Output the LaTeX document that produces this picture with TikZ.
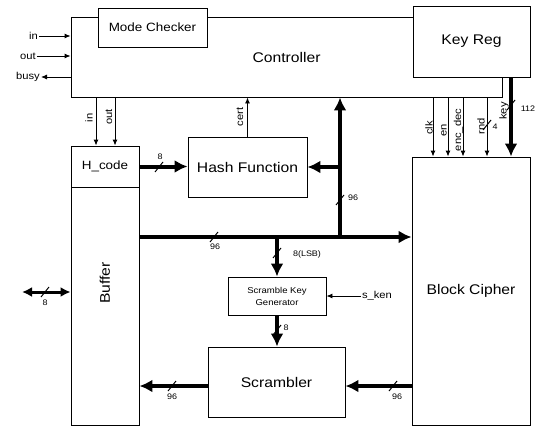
\documentclass[tikz,border=0pt]{standalone}
\usepackage{fontspec}
\setmainfont[FakeStretch=1.12]{Liberation Sans}
\usetikzlibrary{positioning,arrows.meta}

% slash on a bus with its bit count: name, slash point, label point, text
\newcommand{\buswidth}[4]{%
  \draw[slash] (#2) ++(-4,5) -- ++(8,-10);
  \node[num] (#1) at (#3) {#4};}

\begin{document}
\begin{tikzpicture}[
    x=1pt, y=-1pt, % pixel-like units, y goes down
    box/.style={draw,line width=0.9pt,inner sep=0pt},
    big/.style={font=\fontsize{14}{16}\selectfont},
    mid/.style={font=\fontsize{12}{14}\selectfont},
    lbl/.style={font=\fontsize{10}{12}\selectfont,inner sep=1pt},
    num/.style={font=\fontsize{8}{9}\selectfont,inner sep=0.5pt},
    sig/.style={line width=0.9pt,-{Latex[length=6pt,width=5pt]}},
    bus/.style={line width=4pt,-{Latex[length=13pt,width=13pt]}},
    bibus/.style={line width=3pt,{Latex[length=10pt,width=10pt]}-{Latex[length=10pt,width=10pt]}},
    slash/.style={line width=1pt}
]
    \useasboundingbox (0,0) rectangle (537,428);

    % Define blocks
    \node[box,big,minimum width=431pt,minimum height=80pt] (ctrl) at (286.5,57) {Controller};
    \node[box,big,fill=white,minimum width=117pt,minimum height=71pt] (keyreg) at (471.5,41.5) {Key Reg};
    \node[box,mid,fill=white,minimum width=109pt,minimum height=39pt] (mode) at (152.5,27.5) {Mode Checker};
    \node[box,mid,minimum width=68pt,minimum height=41pt] (hcode) at (105,166.5) {H\_code};
    \node[box,minimum width=68pt,minimum height=238pt] (buffer) at (105,306) {};
    \node[big,rotate=90] (bufferl) at (105,283) {Buffer};
    \node[box,big,minimum width=119pt,minimum height=60pt] (hash) at (247.5,167) {Hash Function};
    \node[box,align=center,font=\fontsize{8.5}{12}\selectfont,minimum width=98pt,minimum height=38pt] (skg) at (277,296) {Scramble Key\\Generator};
    \node[box,big,minimum width=137pt,minimum height=70pt] (scr) at (276.5,382) {Scrambler};
    \node[box,big,minimum width=118pt,minimum height=268pt] (cipher) at (471,291) {Block Cipher};

    % Controller outside signals
    \node[lbl,anchor=east] (inl) at (39,36) {in};
    \node[lbl,anchor=east] (outl) at (37,56) {out};
    \node[lbl,anchor=east] (busyl) at (41,77) {busy};
    \draw[sig] (inl.east) -- (inl.east -| ctrl.west);
    \draw[sig] (outl.east) -- (outl.east -| ctrl.west);
    \draw[sig] (busyl.east -| ctrl.west) -- (busyl.east);

    % Controller to H_code and Hash Function
    \coordinate (xin) at (96,0);
    \coordinate (xout) at (115,0);
    \draw[sig] (xin |- ctrl.south) -- (xin |- hcode.north);
    \draw[sig] (xout |- ctrl.south) -- (xout |- hcode.north);
    \node[lbl,rotate=90] (inv) at (89,118) {in};
    \node[lbl,rotate=90] (outv) at (109,117) {out};
    \draw[sig] (hash.north) -- (hash.north |- ctrl.south);
    \node[lbl,rotate=90] (cert) at (240,117) {cert};

    % Controller and Key Reg to Block Cipher
    \coordinate (xclk) at (433,0);
    \coordinate (xen) at (448,0);
    \coordinate (xed) at (463,0);
    \coordinate (xrnd) at (487,0);
    \coordinate (xkey) at (511,0);
    \draw[sig] (xclk |- ctrl.south) -- (xclk |- cipher.north);
    \draw[sig] (xen |- ctrl.south) -- (xen |- cipher.north);
    \draw[sig] (xed |- ctrl.south) -- (xed |- cipher.north);
    \draw[sig] (xrnd |- ctrl.south) -- (xrnd |- cipher.north);
    \draw[bus] (xkey |- keyreg.south) -- (xkey |- cipher.north);
    \node[lbl,rotate=90] (clk) at (429,128) {clk};
    \node[lbl,rotate=90] (en) at (444,130) {en};
    \node[lbl,rotate=90] (encdec) at (458.5,130) {enc\_dec};
    \node[lbl,rotate=90] (rnd) at (481,126) {rnd};
    \node[lbl,rotate=90] (key) at (504,111) {key};
    \buswidth{rndw}{487,125}{495,127}{4}
    \buswidth{keyw}{511,105}{528,109}{112}

    % Data buses
    \draw[bus] (hcode.east) -- (hcode.east -| hash.west);
    \buswidth{hashw}{159,167}{160,157}{8}
    \coordinate (j1) at (340,237);
    \coordinate (j2) at (277,237);
    \draw[bus] (j1 -| buffer.east) -- (j1 -| cipher.west);
    \draw[bus] (j1) -- (j1 |- ctrl.south);
    \draw[bus] (j1 |- hash.east) -- (hash.east);
    \draw[bus] (j2) -- (skg.north);
    \buswidth{busw}{214,237}{215,247}{96}
    \buswidth{upw}{340,200}{353,198}{96}
    \buswidth{lsbw}{277,253}{307,254}{8(LSB)}

    % Scramble path
    \node[lbl] (sken) at (377,296) {s\_ken};
    \draw[sig] (sken.west) -- (sken.west -| skg.east);
    \draw[bus] (skg.south) -- (skg.south |- scr.north);
    \buswidth{skgw}{277,330}{286,328}{8}
    \coordinate (sy) at (0,386);
    \draw[bus] (sy -| cipher.west) -- (sy -| scr.east);
    \draw[bus] (sy -| scr.west) -- (sy -| buffer.east);
    \buswidth{scrw}{393,386}{397,397}{96}
    \buswidth{bufw}{172,386}{172,397}{96}

    % Outside data port of the Buffer
    \coordinate (io) at (22,292);
    \draw[bibus] (io) -- (io -| buffer.west);
    \buswidth{iow}{45,292}{45,303}{8}
\end{tikzpicture}
\end{document}
